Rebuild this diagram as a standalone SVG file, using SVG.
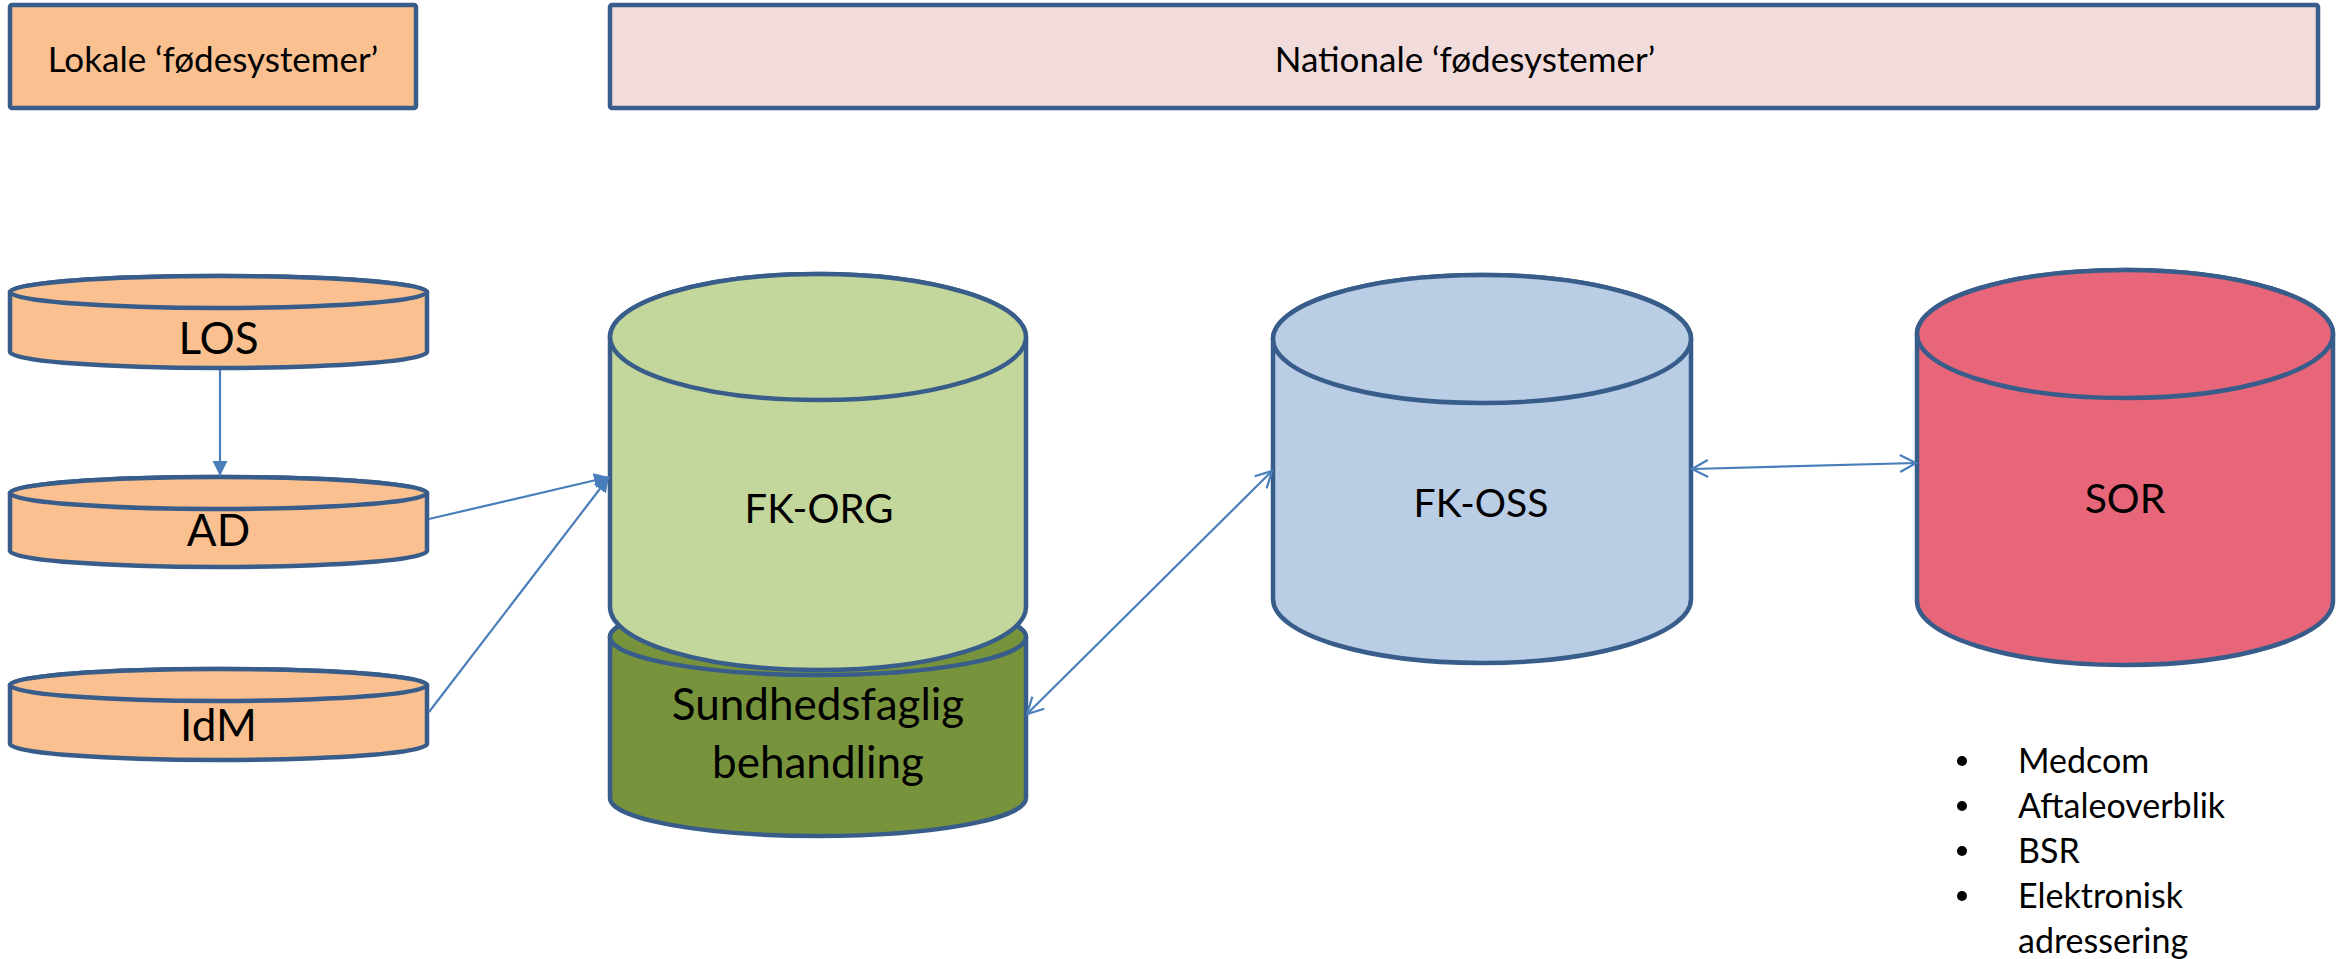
<svg xmlns="http://www.w3.org/2000/svg" width="2346" height="959" viewBox="0 0 2346 959">
<defs>
<style>
.shape{stroke:#385D8A;stroke-width:4.5;stroke-linejoin:round}
.orange{fill:#FAC090}
.pink{fill:#F2DCDB}
.lgreen{fill:#C3D69B}
.dgreen{fill:#77933C}
.blue{fill:#B9CDE5}
.red{fill:#E7667A}
.lbl{font-family:Lato,"Liberation Sans",sans-serif;fill:#000;text-anchor:middle}
.big{font-size:44px}
.hdr{font-size:35px}
.bul{font-family:Lato,"Liberation Sans",sans-serif;font-size:34px;fill:#000}
.conn{stroke:#4A7EBB;stroke-width:2.2;fill:none}
</style>
<marker id="tri" markerUnits="userSpaceOnUse" markerWidth="16" markerHeight="16" viewBox="0 0 16 16" refX="15" refY="8" orient="auto">
<path d="M0,0.5 L15,8 L0,15.5 Z" fill="#4A7EBB"/>
</marker>
<marker id="vee" markerUnits="userSpaceOnUse" markerWidth="20" markerHeight="20" viewBox="0 0 20 20" refX="17" refY="10" orient="auto-start-reverse">
<path d="M1,1.5 L17,10 L1,18.5" fill="none" stroke="#4A7EBB" stroke-width="2.2"/>
</marker>
</defs>
<rect width="2346" height="959" fill="#fff"/>

<g id="lokale">
<rect class="shape orange" x="10" y="5" width="406" height="103" rx="2"/>
<text class="lbl hdr" x="213" y="72">Lokale ‘fødesystemer’</text>
</g>
<g id="nationale">
<rect class="shape pink" x="610" y="5" width="1708" height="103" rx="2"/>
<text class="lbl hdr" x="1465" y="72">Nationale ‘fødesystemer’</text>
</g>

<g id="los">
<path class="shape orange" d="M10,292 V352 A208.5,16 0 0 0 427,352 V292 A208.5,16 0 0 0 10,292 Z"/>
<ellipse class="shape orange" cx="218.5" cy="292" rx="208.5" ry="16"/>
<text class="lbl big" x="218.5" y="354">LOS</text>
</g>
<g id="ad">
<path class="shape orange" d="M10,493 V551 A208.5,16 0 0 0 427,551 V493 A208.5,16 0 0 0 10,493 Z"/>
<ellipse class="shape orange" cx="218.5" cy="493" rx="208.5" ry="16"/>
<text class="lbl big" x="218.5" y="546">AD</text>
</g>
<g id="idm">
<path class="shape orange" d="M10,685 V744 A208.5,16 0 0 0 427,744 V685 A208.5,16 0 0 0 10,685 Z"/>
<ellipse class="shape orange" cx="218.5" cy="685" rx="208.5" ry="16"/>
<text class="lbl big" x="218.5" y="741">IdM</text>
</g>

<g id="sundhed">
<path class="shape dgreen" d="M610,637 V798 A208,38 0 0 0 1026,798 V637 A208,38 0 0 0 610,637 Z"/>
<ellipse class="shape dgreen" cx="818" cy="637" rx="208" ry="38"/>
</g>
<g id="fkorg">
<path class="shape lgreen" d="M610,337 V607 A208,63 0 0 0 1026,607 V337 A208,63 0 0 0 610,337 Z"/>
<ellipse class="shape lgreen" cx="818" cy="337" rx="208" ry="63"/>
<text class="lbl" x="819" y="523" font-size="40">FK-ORG</text>
</g>
<g id="sundhed-label">
<text class="lbl big" x="818" y="720">Sundhedsfaglig</text>
<text class="lbl big" x="818" y="778">behandling</text>
</g>

<g id="fkoss">
<path class="shape blue" d="M1273,339 V599 A209,64 0 0 0 1691,599 V339 A209,64 0 0 0 1273,339 Z"/>
<ellipse class="shape blue" cx="1482" cy="339" rx="209" ry="64"/>
<text class="lbl" x="1481" y="517" font-size="39">FK-OSS</text>
</g>

<g id="sor">
<path class="shape red" d="M1917,334 V601 A208,64 0 0 0 2333,601 V334 A208,64 0 0 0 1917,334 Z"/>
<ellipse class="shape red" cx="2125" cy="334" rx="208" ry="64"/>
<text class="lbl" x="2125" y="513" font-size="41">SOR</text>
</g>

<g id="list">
<circle cx="1962" cy="761" r="5"/>
<circle cx="1962" cy="806" r="5"/>
<circle cx="1962" cy="851" r="5"/>
<circle cx="1962" cy="896" r="5"/>
<text class="bul" x="2018" y="773">Medcom</text>
<text class="bul" x="2018" y="818">Aftaleoverblik</text>
<text class="bul" x="2018" y="863">BSR</text>
<text class="bul" x="2018" y="908">Elektronisk</text>
<text class="bul" x="2018" y="953">adressering</text>
</g>

<g id="connectors">
<line class="conn" x1="220" y1="370" x2="220" y2="476" marker-end="url(#tri)"/>
<line class="conn" x1="429" y1="519" x2="609" y2="477" marker-end="url(#tri)"/>
<line class="conn" x1="429" y1="712" x2="609" y2="477" marker-end="url(#tri)"/>
<line class="conn" x1="1027" y1="714" x2="1272" y2="471" marker-start="url(#vee)" marker-end="url(#vee)"/>
<line class="conn" x1="1692" y1="469" x2="1916" y2="463" marker-start="url(#vee)" marker-end="url(#vee)"/>
</g>
</svg>
